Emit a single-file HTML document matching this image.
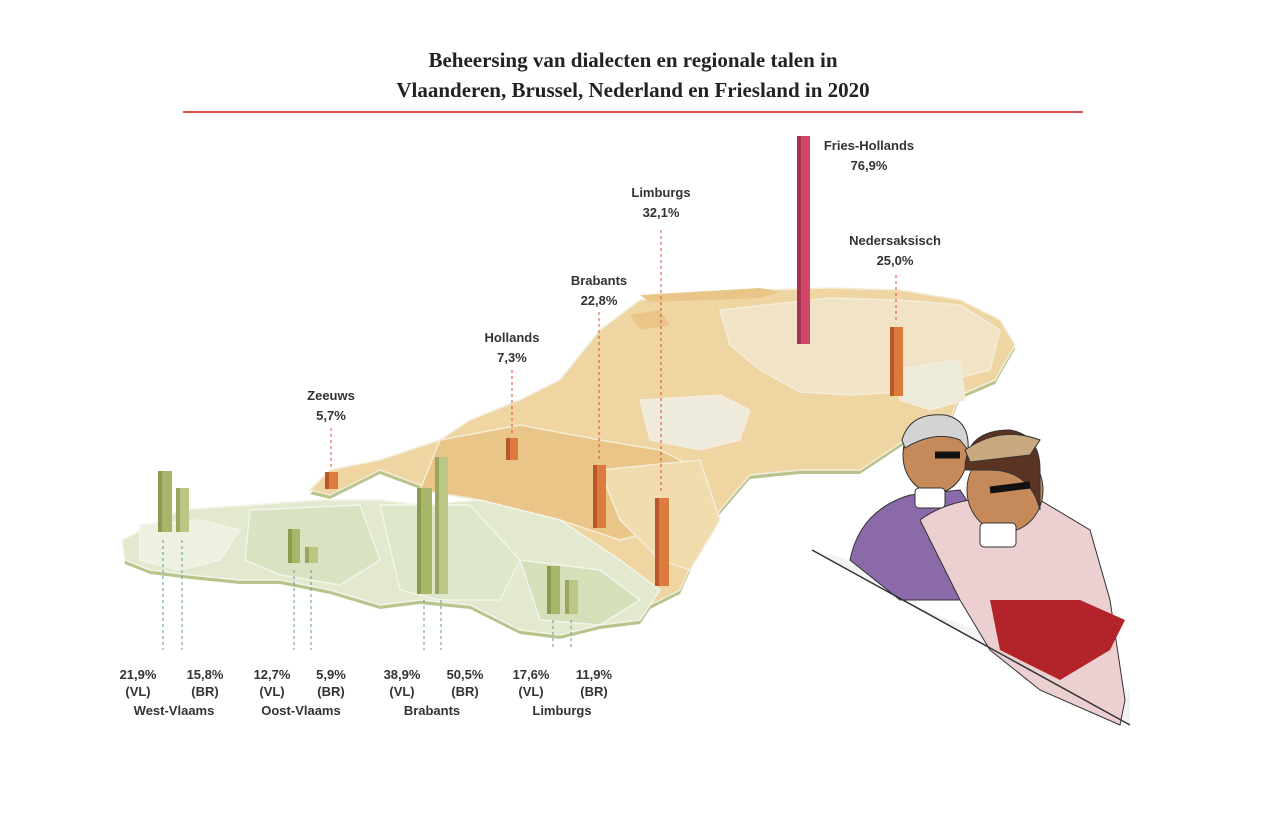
<!DOCTYPE html>
<html><head><meta charset="utf-8"><style>
body{margin:0;background:#fff;width:1264px;height:814px;overflow:hidden}
svg{display:block}
.t{font-family:"Liberation Serif",serif;font-weight:bold;font-size:21px;fill:#222}
.l{font-family:"Liberation Sans",sans-serif;font-weight:bold;font-size:13px;fill:#333}
</style></head><body>
<svg width="1264" height="814" viewBox="0 0 1264 814">
<text class="t" x="633" y="67" text-anchor="middle">Beheersing van dialecten en regionale talen in</text>
<text class="t" x="633" y="97" text-anchor="middle">Vlaanderen, Brussel, Nederland en Friesland in 2020</text>
<line x1="183" y1="112" x2="1083" y2="112" stroke="#d9534f" stroke-width="2"/>
<!-- map shadow edge -->
<g fill="#b9c48c" transform="translate(0,4)">
<path d="M640 300 L700 292 L760 290 L830 288 L900 290 L960 300 L1000 320 L1015 345 L995 380 L960 395 L950 420 L905 440 L860 470 L800 470 L750 475 L720 510 L700 545 L680 590 L650 605 L620 595 L600 570 L560 520 L480 495 L420 485 L380 470 L360 480 L330 495 L310 490 L330 470 L380 460 L440 440 L470 420 L520 400 L560 380 L600 330 Z"/>
<path d="M122 540 L180 510 L250 505 L320 500 L380 500 L420 505 L480 500 L560 520 L620 560 L660 590 L640 620 L600 625 L560 635 L520 630 L470 605 L420 600 L380 605 L330 590 L280 580 L240 580 L190 575 L150 570 L125 560 Z"/>
</g>
<g stroke="#f4ecd8" stroke-width="1.5">
<path d="M640 300 L700 292 L760 290 L830 288 L900 290 L960 300 L1000 320 L1015 345 L995 380 L960 395 L950 420 L905 440 L860 470 L800 470 L750 475 L720 510 L700 545 L680 590 L650 605 L620 595 L600 570 L560 520 L480 495 L420 485 L380 470 L360 480 L330 495 L310 490 L330 470 L380 460 L440 440 L470 420 L520 400 L560 380 L600 330 Z" fill="#eed5a2"/>
<path d="M720 310 L830 298 L900 300 L960 305 L1000 330 L990 370 L950 380 L900 392 L850 395 L800 392 L760 370 L730 345 Z" fill="#f1e4c6"/>
<path d="M640 400 L720 395 L750 410 L740 440 L700 450 L650 440 Z" fill="#efebdc"/>
<path d="M890 370 L960 360 L965 400 L930 410 L900 400 Z" fill="#ecead9"/>
<path d="M440 440 L520 425 L600 440 L660 450 L700 470 L700 520 L620 540 L560 520 L480 500 L420 490 Z" fill="#e9c688"/>
<path d="M600 470 L700 460 L720 520 L690 570 L660 560 L620 520 Z" fill="#f1dcae"/>
</g>
<g stroke="#f2f4ea" stroke-width="1.5">
<path d="M122 540 L180 510 L250 505 L320 500 L380 500 L420 505 L480 500 L560 520 L620 560 L660 590 L640 620 L600 625 L560 635 L520 630 L470 605 L420 600 L380 605 L330 590 L280 580 L240 580 L190 575 L150 570 L125 560 Z" fill="#e3e9cf"/>
<path d="M250 510 L360 505 L380 560 L340 585 L280 575 L245 560 Z" fill="#d9e3c1"/>
<path d="M380 505 L470 505 L520 560 L500 600 L440 600 L400 590 Z" fill="#dfe7cb"/>
<path d="M520 560 L600 570 L640 600 L600 625 L540 620 Z" fill="#d5e0bb"/>
<path d="M140 525 L200 520 L240 530 L220 560 L180 570 L140 560 Z" fill="#eef1e0"/>
</g>
<path d="M640 295 L760 288 L780 292 L760 298 L650 302 Z" fill="#e9c688"/>
<path d="M630 315 L660 310 L670 325 L640 330 Z" fill="#e9c688"/>
<g stroke="#5a9aa0" stroke-width="1" stroke-dasharray="3,3" fill="none">
<line x1="163" y1="540" x2="163" y2="650"/><line x1="182" y1="540" x2="182" y2="650"/>
<line x1="294" y1="570" x2="294" y2="650"/><line x1="311" y1="570" x2="311" y2="650"/>
<line x1="424" y1="600" x2="424" y2="650"/><line x1="441" y1="600" x2="441" y2="650"/>
<line x1="553" y1="620" x2="553" y2="650"/><line x1="571" y1="620" x2="571" y2="650"/>
</g>
<g stroke="#d94a3a" stroke-width="1" stroke-dasharray="3,3">
<line x1="331" y1="428" x2="331" y2="468"/><line x1="512" y1="370" x2="512" y2="434"/>
<line x1="599" y1="312" x2="599" y2="461"/><line x1="661" y1="230" x2="661" y2="494"/>
<line x1="896" y1="275" x2="896" y2="323"/>
</g>
<g>
<rect x="158" y="471" width="14" height="61" fill="#a7b66a"/><rect x="158" y="471" width="4" height="61" fill="#8a9a4e"/>
<rect x="176" y="488" width="13" height="44" fill="#bcc685"/><rect x="176" y="488" width="4" height="44" fill="#9aa660"/>
<rect x="288" y="529" width="12" height="34" fill="#a7b66a"/><rect x="288" y="529" width="4" height="34" fill="#8a9a4e"/>
<rect x="305" y="547" width="13" height="16" fill="#bcc685"/><rect x="305" y="547" width="4" height="16" fill="#9aa660"/>
<rect x="417" y="488" width="15" height="106" fill="#a7b66a"/><rect x="417" y="488" width="4" height="106" fill="#8a9a4e"/>
<rect x="435" y="457" width="13" height="137" fill="#bcc685"/><rect x="435" y="457" width="4" height="137" fill="#9aa660"/>
<rect x="547" y="566" width="13" height="48" fill="#a7b66a"/><rect x="547" y="566" width="4" height="48" fill="#8a9a4e"/>
<rect x="565" y="580" width="13" height="34" fill="#bcc685"/><rect x="565" y="580" width="4" height="34" fill="#9aa660"/>
<rect x="325" y="472" width="13" height="17" fill="#dd7a3e"/><rect x="325" y="472" width="4" height="17" fill="#b8582a"/>
<rect x="506" y="438" width="12" height="22" fill="#dd7a3e"/><rect x="506" y="438" width="4" height="22" fill="#b8582a"/>
<rect x="593" y="465" width="13" height="63" fill="#dd7a3e"/><rect x="593" y="465" width="4" height="63" fill="#b8582a"/>
<rect x="655" y="498" width="14" height="88" fill="#dd7a3e"/><rect x="655" y="498" width="4" height="88" fill="#b8582a"/>
<rect x="890" y="327" width="13" height="69" fill="#dd7a3e"/><rect x="890" y="327" width="4" height="69" fill="#b8582a"/>
<rect x="797" y="136" width="13" height="208" fill="#cf4868"/><rect x="797" y="136" width="4" height="208" fill="#a83050"/>
</g>
<g class="l" text-anchor="middle">
<text x="869" y="150">Fries-Hollands</text><text x="869" y="170">76,9%</text>
<text x="661" y="197">Limburgs</text><text x="661" y="217">32,1%</text>
<text x="895" y="245">Nedersaksisch</text><text x="895" y="265">25,0%</text>
<text x="599" y="285">Brabants</text><text x="599" y="305">22,8%</text>
<text x="512" y="342">Hollands</text><text x="512" y="362">7,3%</text>
<text x="331" y="400">Zeeuws</text><text x="331" y="420">5,7%</text>
<text x="138" y="679">21,9%</text><text x="138" y="696">(VL)</text>
<text x="205" y="679">15,8%</text><text x="205" y="696">(BR)</text>
<text x="174" y="715">West-Vlaams</text>
<text x="272" y="679">12,7%</text><text x="272" y="696">(VL)</text>
<text x="331" y="679">5,9%</text><text x="331" y="696">(BR)</text>
<text x="301" y="715">Oost-Vlaams</text>
<text x="402" y="679">38,9%</text><text x="402" y="696">(VL)</text>
<text x="465" y="679">50,5%</text><text x="465" y="696">(BR)</text>
<text x="432" y="715">Brabants</text>
<text x="531" y="679">17,6%</text><text x="531" y="696">(VL)</text>
<text x="594" y="679">11,9%</text><text x="594" y="696">(BR)</text>
<text x="562" y="715">Limburgs</text>
</g>
<path d="M812 550 L1130 725 L1130 690 L1000 640 L900 600 L850 560 Z" fill="#f3f3f3"/>
<path d="M850 560 Q860 510 910 495 L960 490 L980 520 L960 600 L900 600 Z" fill="#8a6aa8" stroke="#333"/>
<path d="M920 520 Q960 490 1040 500 L1090 530 L1110 600 L1125 700 L1120 725 L1040 690 L990 650 L960 600 Z" fill="#eccfd0" stroke="#333"/>
<path d="M990 600 L1000 650 L1060 680 L1110 650 L1125 620 L1080 600 Z" fill="#b3242a"/>
<ellipse cx="935" cy="455" rx="32" ry="38" fill="#c68a5a" stroke="#333"/>
<path d="M902 440 Q910 412 945 415 Q970 420 968 450 L960 440 Q935 430 905 448 Z" fill="#d4d4d4" stroke="#333"/>
<ellipse cx="1005" cy="490" rx="38" ry="42" fill="#c68a5a" stroke="#333"/>
<path d="M965 470 Q965 430 1010 430 Q1040 435 1040 470 L1040 510 Q1030 470 990 470 Z" fill="#5a3322" stroke="#333"/>
<path d="M965 450 Q1000 425 1040 440 L1030 455 L970 462 Z" fill="#c8a880" stroke="#333"/>
<rect x="915" y="488" width="30" height="20" rx="4" fill="#fff" stroke="#333"/>
<rect x="980" y="523" width="36" height="24" rx="4" fill="#fff" stroke="#333"/>
<path d="M935 455 L960 455 M990 490 L1030 485" stroke="#111" stroke-width="7"/>
<path d="M812 550 L1130 725" stroke="#333" stroke-width="1.5"/>
</svg>
</body></html>
